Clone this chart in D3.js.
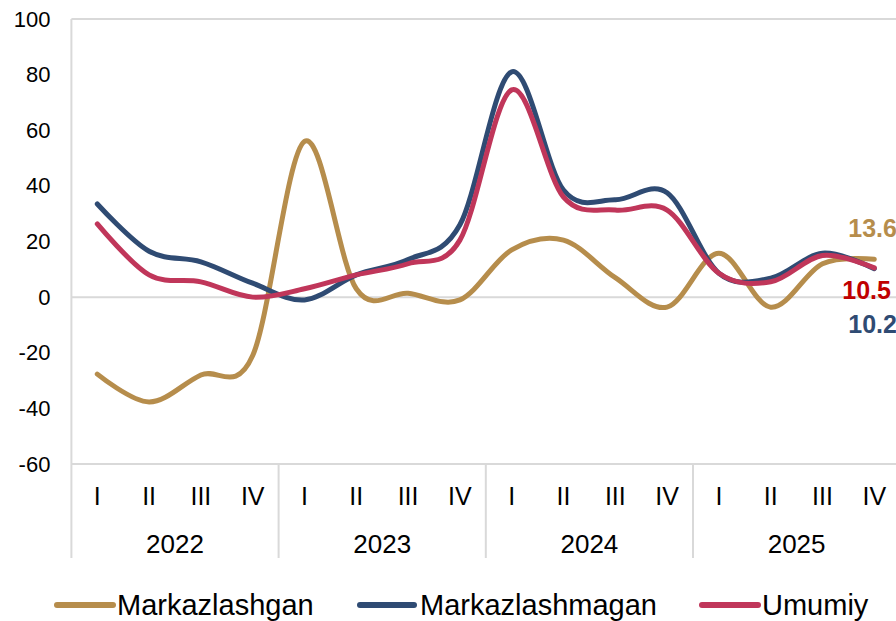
<!DOCTYPE html>
<html><head><meta charset="utf-8">
<script src="https://cdn.jsdelivr.net/npm/d3@7"></script>
<style>body{margin:0;background:#fff}svg{display:block}text{font-family:Arial,"Liberation Sans",sans-serif}</style>
</head><body><svg id="c" width="896" height="621"></svg>
<script>
const years = ["2022","2023","2024","2025"];
const quarters = ["I","II","III","IV"];
const markazlashgan = [-27.7,-37.7,-28,-21, 56,3,1.4,-1, 17,20.5,7,-3.6, 15.8,-3.6,12,13.6];
const markazlashmagan = [33.5,16.5,12.7,5, -1,8,13.5,26, 81,38.5,35,37.5, 8.6,6.8,15.8,10.2];
const umumiy = [26.3,8,5.5,0, 3,8,12,20.5, 74.5,36,31.3,31.3, 8.6,5.5,15,10.5];
const yTicks = [-60,-40,-20,0,20,40,60,80,100];
const seriesNames = ["Markazlashgan","Markazlashmagan","Umumiy"];
const colors = ["#B68D4C","#2F4B73","#C0365A"];
const labelColors = ["#B68D4C","#C00000","#2F4B73"];

const svg = d3.select("#c");
const cats = [];
years.forEach(y=>quarters.forEach(q=>cats.push(y+"-"+q)));
const x = d3.scaleBand().domain(cats).range([71.4, 71.4+16*51.8]);
const y = d3.scaleLinear().domain([-60,100]).range([464,19]);
const grid = "#d9d9d9";

svg.append("line").attr("x1",71.4).attr("x2",896).attr("y1",y(100)).attr("y2",y(100)).attr("stroke",grid).attr("stroke-width",2);
svg.append("line").attr("x1",71.4).attr("x2",896).attr("y1",y(0)).attr("y2",y(0)).attr("stroke",grid).attr("stroke-width",2);
svg.append("line").attr("x1",71.4).attr("x2",896).attr("y1",y(-60)).attr("y2",y(-60)).attr("stroke",grid).attr("stroke-width",2);
svg.append("line").attr("x1",71.4).attr("x2",71.4).attr("y1",y(100)).attr("y2",558).attr("stroke",grid).attr("stroke-width",2);
years.forEach((yr,i)=>{
  if(i>0){
    const xs = x(yr+"-I");
    svg.append("line").attr("x1",xs).attr("x2",xs).attr("y1",y(-60)).attr("y2",558).attr("stroke",grid).attr("stroke-width",2);
  }
});

const yAxis = d3.axisLeft(y).tickValues(yTicks).tickSize(0).tickPadding(21).tickFormat(d=>String(d));
const ya = svg.append("g").attr("transform","translate(71.4,0)").call(yAxis);
ya.select(".domain").remove();
ya.selectAll("text").attr("font-size",22).attr("fill","#000").style("font-family","Arial,'Liberation Sans',sans-serif");

svg.append("g").selectAll("text").data(cats).join("text")
  .attr("x",d=>x(d)+x.bandwidth()/2).attr("y",505)
  .attr("text-anchor","middle").attr("font-size",25).attr("fill","#000")
  .text(d=>d.split("-")[1]);
svg.append("g").selectAll("text").data(years).join("text")
  .attr("x",d=>x(d+"-I")+x.bandwidth()*2).attr("y",553)
  .attr("text-anchor","middle").attr("font-size",26).attr("fill","#000")
  .text(d=>d);

const allData = [markazlashgan, markazlashmagan, umumiy];
const line = d3.line().x((d,i)=>x(cats[i])+x.bandwidth()/2).y(d=>y(d)).curve(d3.curveCardinal.tension(0));
[0,1,2].forEach(k=>{
  svg.append("path").datum(allData[k]).attr("d",line).attr("fill","none")
    .attr("stroke",colors[k]).attr("stroke-width",5).attr("stroke-linecap","round").attr("stroke-linejoin","round");
});

const lastX = x(cats[15])+x.bandwidth()/2;
const endLabels = [
  {v:markazlashgan[15], c:labelColors[0], dx:-26, by:237},
  {v:umumiy[15], c:labelColors[1], dx:-32, by:299},
  {v:markazlashmagan[15], c:labelColors[2], dx:-26, by:333}
];
endLabels.forEach(l=>{
  svg.append("text").attr("x",lastX+l.dx).attr("y",l.by).attr("font-size",25).attr("font-weight","bold")
    .style("font-family","Arial,'Liberation Sans',sans-serif")
    .attr("fill",l.c).text(l.v.toFixed(1));
});

const legendItems = [
  {name:seriesNames[0], c:colors[0], x1:57, x2:113, tx:117},
  {name:seriesNames[1], c:colors[1], x1:360, x2:414, tx:420},
  {name:seriesNames[2], c:colors[2], x1:702, x2:758, tx:762}
];
legendItems.forEach(l=>{
  svg.append("line").attr("x1",l.x1).attr("x2",l.x2).attr("y1",605).attr("y2",605)
    .attr("stroke",l.c).attr("stroke-width",6).attr("stroke-linecap","round");
  svg.append("text").attr("x",l.tx).attr("y",615).attr("font-size",29).attr("fill","#000").text(l.name);
});
</script></body></html>
